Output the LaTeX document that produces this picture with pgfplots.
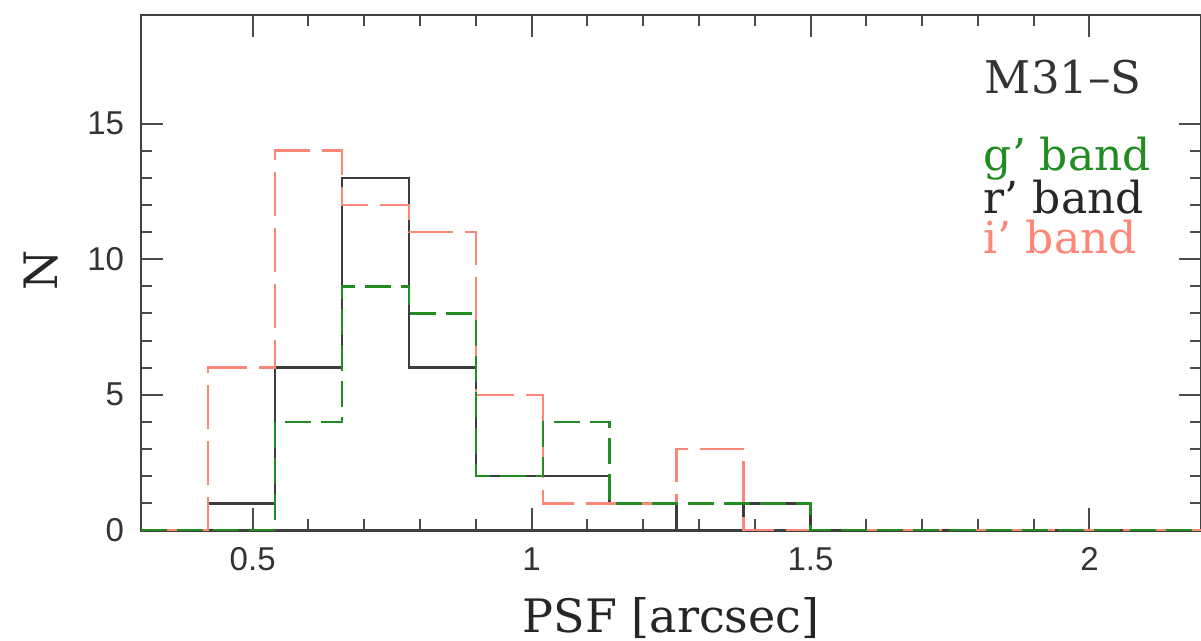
\documentclass[border=0pt]{standalone}
\usepackage{pgfplots}
\pgfplotsset{compat=1.18}
\usepackage{fontspec}
\setmainfont{DejaVu Serif}
\newfontfamily\tickfont{Liberation Sans}
\definecolor{gband}{RGB}{34,139,34}
\definecolor{iband}{RGB}{252,135,118}
\definecolor{rband}{RGB}{60,60,60}
\begin{document}
\begin{tikzpicture}
\begin{axis}[
 name=ax,
 scale only axis,
 width=529.5pt, height=257.5pt,
 xmin=0.3, xmax=2.2, ymin=0, ymax=19,
 xtick={0.5,1,1.5,2}, ytick={0,5,10,15},
 minor x tick num=4, minor y tick num=4,
 major tick length=11pt, minor tick length=5.5pt,
 tick style={line width=1pt, black!70},
 axis line style={line width=1.2pt, black!75},
 tick label style={font=\tickfont\fontsize{16.5}{18}\selectfont, text=black!80},
 /pgf/number format/assume math mode=true,
 yticklabel style={xshift=-5pt},
 xticklabel style={yshift=-5pt},
 xlabel={PSF [arcsec]}, ylabel={N},
 label style={font=\fontsize{23}{26}\selectfont, text=black!85},
 xlabel style={at={(axis description cs:0.5,-0.198)}, anchor=base},
 ylabel style={at={(axis description cs:-0.0793,0.505)}, anchor=base},
]
\addplot[const plot, rband, line width=1.25pt] coordinates {
 (0.30,0) (0.42,1) (0.54,6) (0.66,13) (0.78,6) (0.90,2) (1.02,2) (1.14,1) (1.26,0) (1.38,1) (1.50,0) (2.30,0)};
\addplot[const plot, iband, line width=1.25pt, dash pattern=on 22pt off 6pt] coordinates {
 (0.30,0) (0.42,6) (0.54,14) (0.66,12) (0.78,11) (0.90,5) (1.02,1) (1.14,1) (1.26,3) (1.38,0) (1.50,0) (2.30,0)};
\addplot[const plot, gband, line width=1.25pt, dash pattern=on 13pt off 5pt] coordinates {
 (0.30,0) (0.42,0) (0.54,4) (0.66,9) (0.78,8) (0.90,2) (1.02,4) (1.14,1) (1.26,1) (1.38,1) (1.50,0) (2.30,0)};
\node[anchor=base west, inner sep=0, font=\fontsize{22.5}{26}\selectfont, text=black!80] at (axis cs:1.812,16.1) {M31–S};
\node[anchor=base west, inner sep=0, font=\fontsize{22}{26}\selectfont, text=gband] at (axis cs:1.81,13.25) {g’ band};
\node[anchor=base west, inner sep=0, font=\fontsize{22}{26}\selectfont, text=black!85] at (axis cs:1.81,11.7) {r’ band};
\node[anchor=base west, inner sep=0, font=\fontsize{22}{26}\selectfont, text=iband] at (axis cs:1.81,10.2) {i’ band};
\end{axis}
\pgfresetboundingbox
\path ([shift={(-70.5pt,-55pt)}]ax.south west) rectangle ([shift={(0pt,7.5pt)}]ax.north east);
\end{tikzpicture}
\end{document}
